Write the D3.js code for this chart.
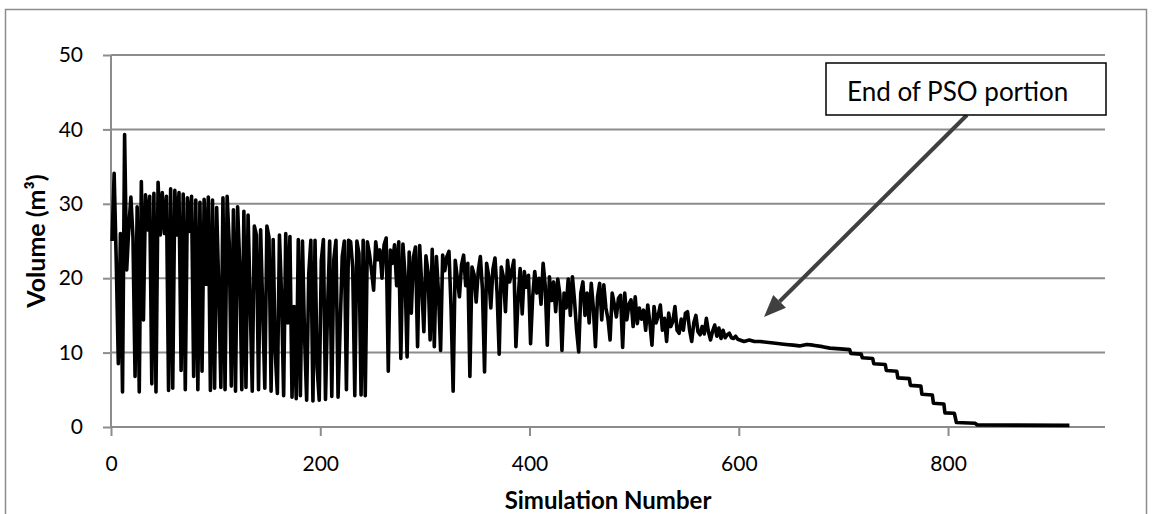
<!DOCTYPE html>
<html>
<head>
<meta charset="utf-8">
<script src="https://cdn.jsdelivr.net/npm/d3@7"></script>
<style>
  body { margin: 0; background: #fff; }
  text { font-family: Lato, "Open Sans", sans-serif; }
</style>
</head>
<body>
<svg id="chart" width="1155" height="514"></svg>
<script>
// volume per simulation during the PSO part, sims 1, 3, 5 ... 599
const psoStart = 1;
const psoStep = 2;
const psoVolume = [
  25.0, 34.1, 22.4, 8.5, 26.0, 4.7, 39.3, 21.1, 26.8, 30.9,
  25.5, 6.8, 29.6, 4.7, 33.0, 14.4, 31.2, 26.5, 31.0, 5.8,
  31.4, 4.7, 32.9, 25.8, 31.5, 26.0, 31.0, 4.9, 32.0, 5.2,
  31.8, 25.8, 31.5, 7.6, 31.3, 5.0, 30.8, 26.3, 31.0, 6.8,
  30.5, 5.0, 30.2, 7.5, 30.6, 19.2, 30.9, 4.9, 30.5, 5.2,
  29.5, 18.5, 5.3, 30.8, 5.0, 31.0, 24.7, 5.5, 29.2, 4.8,
  29.6, 22.0, 5.0, 29.0, 5.3, 28.5, 17.0, 4.8, 27.0, 25.8,
  5.0, 26.5, 16.0, 5.2, 27.0, 25.5, 4.8, 25.2, 10.0, 4.5,
  25.8, 17.7, 4.2, 26.0, 14.0, 25.6, 4.0, 16.2, 3.8, 25.2,
  4.2, 25.0, 12.1, 3.6, 20.6, 25.1, 3.5, 25.1, 8.0, 3.6,
  22.4, 25.2, 3.7, 16.0, 25.0, 4.1, 22.6, 25.1, 4.0, 13.5,
  22.9, 25.0, 5.0, 25.1, 24.9, 21.5, 4.2, 25.0, 23.3, 4.3,
  25.1, 4.2, 24.9, 23.3, 21.0, 18.4, 24.9, 22.5, 23.8, 20.0,
  24.5, 25.4, 7.5, 23.8, 22.0, 24.5, 19.0, 24.9, 9.2, 24.6,
  20.5, 9.4, 23.5, 15.3, 22.8, 24.2, 10.8, 24.4, 19.0, 12.8,
  23.0, 20.8, 11.7, 23.9, 10.8, 22.9, 18.0, 10.3, 23.1, 21.0,
  22.9, 23.6, 16.0, 4.8, 22.4, 20.0, 17.5, 21.8, 23.1, 19.0,
  22.0, 6.8, 21.5, 20.5, 16.8, 21.0, 22.9, 18.5, 7.4, 22.0,
  20.3, 16.0, 21.2, 22.7, 18.0, 9.8, 21.5, 20.2, 15.5, 22.4,
  19.5, 21.0, 22.4, 10.8, 17.0, 21.3, 15.2, 20.9, 18.8, 20.4,
  11.2, 17.5, 20.9, 18.0, 20.0, 16.5, 22.0, 19.0, 11.0, 20.2,
  17.0, 19.5, 15.5, 19.9, 17.8, 10.3, 18.0, 16.0, 19.9, 15.0,
  20.2, 17.0, 13.0, 10.1, 18.0, 19.5, 15.0, 18.0, 14.0, 19.3,
  16.0, 10.8, 17.5, 19.3, 14.4, 19.1, 16.0, 14.5, 11.7, 18.0,
  16.5, 14.8, 17.3, 17.7, 10.7, 18.0, 14.4, 16.5, 17.1, 13.5,
  17.5, 13.9, 16.0, 14.5, 15.7, 13.0, 16.4, 14.0, 11.0, 16.2,
  14.0, 15.0, 16.4, 13.0, 14.6, 11.5, 15.3, 13.5, 14.2, 16.2,
  13.0, 12.6, 14.5, 13.0, 15.3, 15.5, 13.0, 11.5, 14.0, 15.0,
  12.8, 12.4, 13.5, 12.5, 14.6, 12.8, 11.7, 12.9, 13.7, 12.2,
  13.3, 11.9, 13.0, 12.0, 12.4, 12.6, 12.0, 11.9, 12.2, 11.8
];

// after the PSO part: slow decline then stair steps
const stepSims = [601, 605, 610, 615, 620, 633, 645, 652, 658, 665,
  671, 680, 687, 697, 706, 707, 717, 718, 728, 729,
  740, 741, 751, 752, 763, 764, 774, 775, 785, 786,
  796, 797, 806, 808, 826, 828, 916];
const stepVolume = [11.7, 11.5, 11.7, 11.5, 11.5, 11.3, 11.1, 11.0, 10.9, 11.1,
  11.0, 10.8, 10.6, 10.5, 10.4, 9.9, 9.8, 9.3, 9.2, 8.5,
  8.4, 7.6, 7.5, 6.6, 6.5, 5.6, 5.5, 4.4, 4.3, 3.2,
  3.1, 1.9, 1.85, 0.6, 0.5, 0.27, 0.22];

const xTicks = [0, 200, 400, 600, 800];
const yTicks = [0, 10, 20, 30, 40, 50];

const svg = d3.select("#chart");
const gridColor = "#8c8c8c";

const plotLeft = 111, plotRight = 1105, plotTop = 55, plotBottom = 427;

const x = d3.scaleLinear().domain([0, 950]).range([plotLeft, plotRight]);
const y = d3.scaleLinear().domain([0, 50]).range([plotBottom, plotTop]);

// outer frame
svg.append("rect")
  .attr("x", 5.5).attr("y", 9.5)
  .attr("width", 1141).attr("height", 530)
  .attr("fill", "none")
  .attr("stroke", gridColor)
  .attr("stroke-width", 1.5);

// y axis with gridlines
const yAxis = svg.append("g")
  .attr("transform", `translate(${plotLeft},0)`)
  .call(d3.axisLeft(y).tickValues(yTicks).tickSize(8).tickPadding(20));
yAxis.select(".domain").remove();
yAxis.selectAll(".tick line").attr("stroke", gridColor).attr("stroke-width", 2);
yAxis.selectAll(".tick text")
  .attr("font-size", 21).attr("fill", "#000")
  .attr("font-family", "Lato, sans-serif");

svg.append("g")
  .selectAll("line")
  .data(yTicks)
  .enter()
  .append("line")
  .attr("x1", plotLeft).attr("x2", plotRight)
  .attr("y1", d => y(d)).attr("y2", d => y(d))
  .attr("stroke", gridColor)
  .attr("stroke-width", 2);

svg.append("line")
  .attr("x1", plotLeft).attr("x2", plotLeft)
  .attr("y1", plotTop).attr("y2", plotBottom)
  .attr("stroke", gridColor)
  .attr("stroke-width", 2);

// x axis
const xAxis = svg.append("g")
  .attr("transform", `translate(0,${plotBottom})`)
  .call(d3.axisBottom(x).tickValues(xTicks).tickSize(9).tickPadding(20));
xAxis.select(".domain").remove();
xAxis.selectAll(".tick line").attr("stroke", gridColor).attr("stroke-width", 2);
xAxis.selectAll(".tick text")
  .attr("font-size", 21).attr("fill", "#000")
  .attr("font-family", "Lato, sans-serif");

// axis titles
svg.append("text")
  .attr("x", (plotLeft + plotRight) / 2)
  .attr("y", 509)
  .attr("text-anchor", "middle")
  .attr("font-size", 24)
  .attr("font-weight", "bold")
  .text("Simulation Number");

svg.append("text")
  .attr("transform", `translate(45,${(plotTop + plotBottom) / 2}) rotate(-90)`)
  .attr("text-anchor", "middle")
  .attr("font-size", 25)
  .attr("font-weight", "bold")
  .text("Volume (m³)");

// series
const points = psoVolume.map((v, i) => [psoStart + i * psoStep, v])
  .concat(stepSims.map((s, i) => [s, stepVolume[i]]));

const line = d3.line()
  .x(d => x(d[0]))
  .y(d => y(d[1]));

svg.append("path")
  .datum(points)
  .attr("d", line)
  .attr("fill", "none")
  .attr("stroke", "#000")
  .attr("stroke-width", 3.6)
  .attr("stroke-linejoin", "round");

// annotation
const arrowFrom = [967, 115], arrowTo = [764, 317];
const ang = Math.atan2(arrowTo[1] - arrowFrom[1], arrowTo[0] - arrowFrom[0]);
const headLen = 22, headW = 9;
const baseX = arrowTo[0] - headLen * Math.cos(ang);
const baseY = arrowTo[1] - headLen * Math.sin(ang);

svg.append("line")
  .attr("x1", arrowFrom[0]).attr("y1", arrowFrom[1])
  .attr("x2", baseX).attr("y2", baseY)
  .attr("stroke", "#404040")
  .attr("stroke-width", 4);

svg.append("polygon")
  .attr("points", [
    arrowTo,
    [baseX + headW * Math.sin(ang), baseY - headW * Math.cos(ang)],
    [baseX - headW * Math.sin(ang), baseY + headW * Math.cos(ang)]
  ].map(p => p.join(",")).join(" "))
  .attr("fill", "#404040");

svg.append("rect")
  .attr("x", 826).attr("y", 63)
  .attr("width", 280).attr("height", 52)
  .attr("fill", "#fff")
  .attr("stroke", "#000")
  .attr("stroke-width", 1.5);

svg.append("text")
  .attr("x", 847)
  .attr("y", 101)
  .attr("font-size", 26)
  .text("End of PSO portion");
</script>
</body>
</html>
